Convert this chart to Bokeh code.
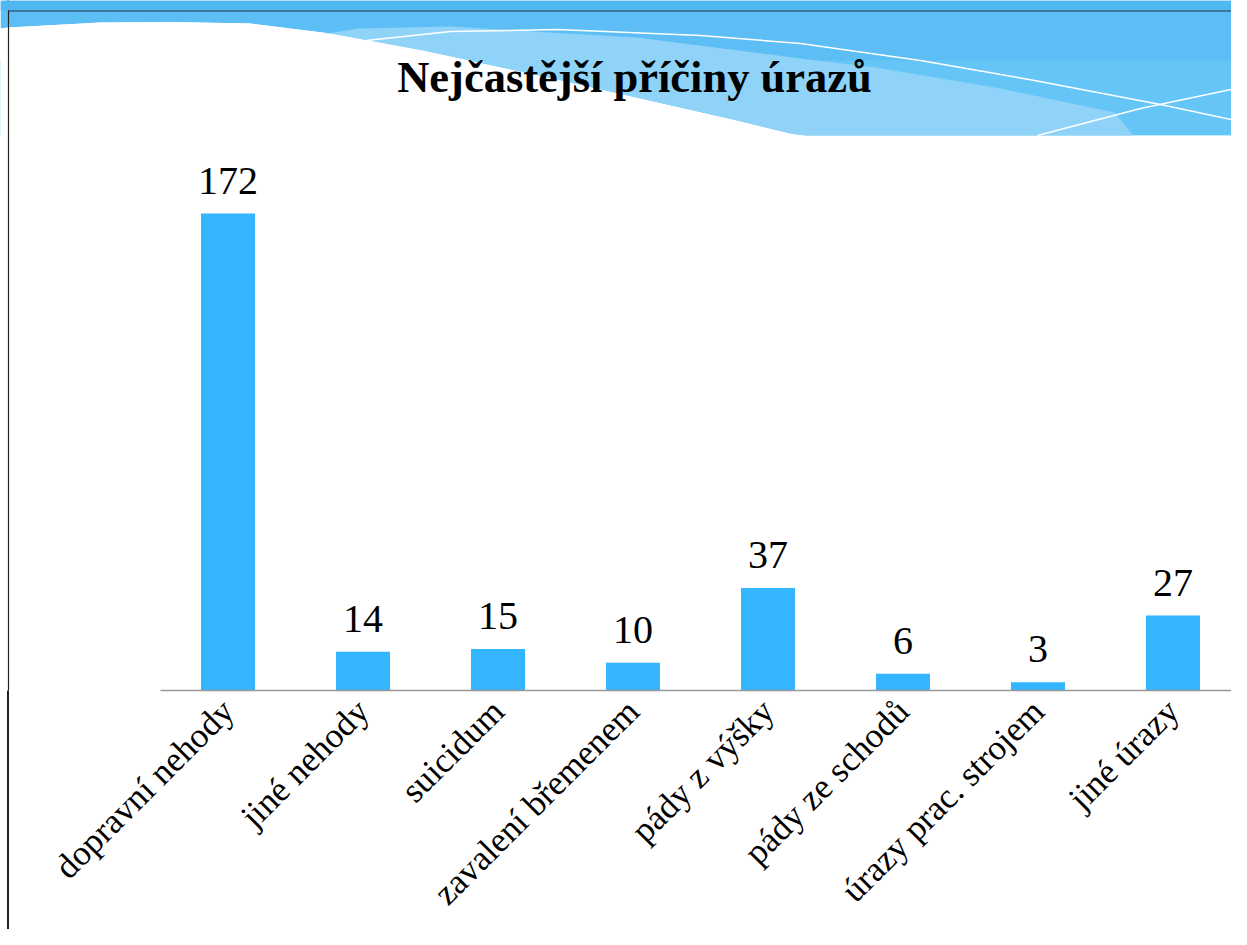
import math
from bokeh.plotting import figure
from bokeh.models import (Range1d, LinearAxis, FixedTicker, ColumnDataSource,
                          LabelSet, Label)
from bokeh.core.properties import value
from bokeh.embed import file_html
from bokeh.resources import INLINE

# ---- data ----
categories = ["dopravní nehody", "jiné nehody", "suicidum", "zavalení břemenem",
              "pády z výšky", "pády ze schodů", "úrazy prac. strojem", "jiné úrazy"]
values = [172, 14, 15, 10, 37, 6, 3, 27]
title_text = "Nejčastější příčiny úrazů"

# ---- layout constants (figure pixels) ----
W, H = 1231, 929
FRAME_BOTTOM = 690               # axis line position inside figure
LEFT_PAD = 160                   # empty space left of first category
px_per_cat = 135.0
px_per_unit = 477 / 172.0
n = len(categories)
y_top = FRAME_BOTTOM / px_per_unit

p = figure(width=W, height=H, output_backend="svg", toolbar_location=None,
           x_range=Range1d(-LEFT_PAD / px_per_cat, (W - LEFT_PAD) / px_per_cat),
           y_range=Range1d(0, y_top),
           x_axis_location=None, y_axis_location=None,
           min_border_left=0, min_border_right=0, min_border_top=0,
           min_border_bottom=H - FRAME_BOTTOM)
p.grid.visible = False
p.outline_line_color = None
p.background_fill_color = "white"
p.border_fill_color = None
# thin dark slide border on the left, continuing below the plot frame
p.styles = {"background": "linear-gradient(to right, white 0px, white 7.4px, #222222 7.4px, "
                          "#222222 8.6px, white 8.6px, white 100%)"}

# pixel coordinate system for the decorative background
p.extra_x_ranges = {"px": Range1d(0, W)}
p.extra_y_ranges = {"py": Range1d(FRAME_BOTTOM, 0)}
R = dict(x_range_name="px", y_range_name="py")

# decorative wave
wave_x = [0, 8, 100, 170, 250, 330, 423, 557, 737, 790, 805, 1238]
wave_y = [28, 27, 22, 21.5, 23, 33, 50, 79, 120, 133, 135, 135]
blue_x = [0, 1240, 1240, 1238] + wave_x[::-1]
blue_y = [0, 0, 198, 198] + wave_y[::-1]
p.patch(blue_x, blue_y, fill_color="#5CBEF4", line_color=None, **R)
p.patch([0, 1240, 1240, 1238, 1238, 0],
        [60, 60, 198, 198, 135, 135], fill_color="#66C5F7", line_color=None, **R)
p.patch(wave_x + [1238, 0], wave_y + [140, 140], fill_color="white", line_color=None, **R)
p.patch([0, 1240, 1240, 0], [0, 0, 10, 10], fill_color="#50B8F0", line_color=None, **R)
p.line([8, 1240], [10.5, 10.5], line_color="#2F5F7F", line_width=1.5, **R)
light_x = [320, 358, 450, 636, 800, 875, 1000, 1114, 1133, 805, 790, 737, 557, 423, 330]
light_y = [34, 28, 26, 37, 58, 67, 88, 112, 135, 135, 133, 120, 79, 50, 33]
p.patch(light_x, light_y, fill_color="#8FD3F9", line_color=None, **R)
p.line([366, 450, 557, 700, 800, 920, 1034, 1160, 1240],
       [40, 31, 29, 35, 43, 60, 80, 104, 121], line_color="white", line_width=1.5, **R)
p.line([1037, 1140, 1240], [135, 108, 87], line_color="white", line_width=1.5, **R)
p.line([8, 8], [10, FRAME_BOTTOM + 5], line_color="#222222", line_width=1.2, **R)

# title
p.add_layout(Label(x=634, y=76, text=title_text, text_font="Liberation Serif",
                   text_font_style="bold", text_font_size="44.5px", text_align="center",
                   text_baseline="alphabetic", text_color="black", **R))

# bars
xs = [i + 0.5 for i in range(n)]
src = ColumnDataSource(dict(x=xs, top=values, label=[str(v) for v in values]))
p.vbar(x="x", top="top", width=0.4, source=src, fill_color="#33B5FF", line_color=None)
p.add_layout(LabelSet(x="x", y="top", text="label", source=src, y_offset=20,
                      text_font=value("Liberation Serif"), text_font_size="40px",
                      text_align="center", text_baseline="alphabetic",
                      text_color="black"))

# category axis
ax = LinearAxis(ticker=FixedTicker(ticks=xs),
                major_label_overrides={x: c for x, c in zip(xs, categories)},
                bounds=(0, n))
ax.major_label_orientation = math.pi / 4
ax.axis_line_color = "#999999"
ax.axis_line_width = 1.5
ax.major_tick_line_color = None
ax.minor_tick_line_color = None
ax.major_tick_out = 0
ax.major_tick_in = 0
ax.major_label_text_font = "Liberation Serif"
ax.major_label_text_font_size = "35px"
ax.major_label_text_color = "black"
ax.major_label_standoff = 15
p.add_layout(ax, "below")

open("out.html", "w").write(file_html(p, INLINE))
